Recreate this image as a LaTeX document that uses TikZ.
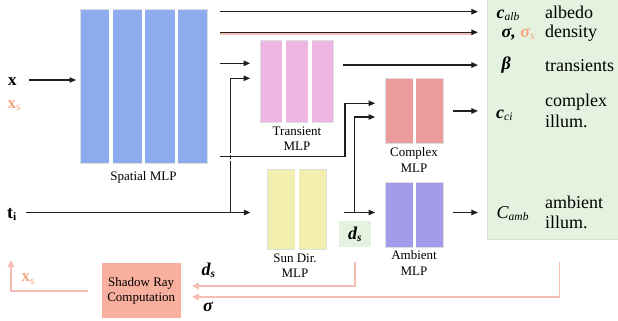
\documentclass[tikz,border=0pt]{standalone}
\usepackage{fontspec}
\setmainfont{Liberation Serif}
\usetikzlibrary{arrows.meta,calc}

\definecolor{spatialblue}{HTML}{8EABEE}
\definecolor{transpink}{HTML}{EDB6E3}
\definecolor{complexred}{HTML}{EB9B9B}
\definecolor{ambientviolet}{HTML}{A29CEB}
\definecolor{sunyellow}{HTML}{F2EEAE}
\definecolor{outgreen}{HTML}{E3F3E0}
\definecolor{outgreenline}{HTML}{D2E2CF}
\definecolor{shadowsalmon}{HTML}{F9AF9D}
\definecolor{raysalmon}{HTML}{F6BDB2}
\definecolor{xsorange}{HTML}{F4A67F}
\definecolor{wire}{HTML}{1E1E1E}

% lowered small text for subscripts
\newcommand\lowtxt[1]{\raisebox{-2.5pt}{\fontsize{11.5}{12}\selectfont #1}}

\begin{document}
\begin{tikzpicture}[x=1pt,y=-1pt,
  mlp/.style={rectangle, inner sep=0pt, outer sep=0pt, draw=black!13, line width=0.5pt},
  caption/.style={font=\fontsize{13}{15.5}\selectfont, align=center, inner sep=0pt},
  flow/.style={draw=wire, line width=1.1pt, -{Triangle[length=6.5pt,width=5.5pt]}},
  flowline/.style={draw=wire, line width=1.1pt},
  ray/.style={draw=raysalmon, line width=1.6pt, -{Triangle[length=7pt,width=6.5pt]}},
  rayline/.style={draw=raysalmon, line width=1.6pt},
  sym/.style={font=\fontsize{18}{20}\selectfont, inner sep=0pt, anchor=base west},
  word/.style={font=\fontsize{18}{20}\selectfont, inner sep=0pt, anchor=base west},
]
\useasboundingbox (0,0) rectangle (618,321);

% ---------- output panel ----------
\node[rectangle, inner sep=0pt, fill=outgreen, draw=outgreenline, line width=0.8pt,
      minimum width=132pt, minimum height=241pt] (outbox) at (553.3,119.2) {};

% ---------- MLP blocks ----------
\node[mlp, fill=spatialblue, minimum width=127pt, minimum height=154pt] (spatial) at (143.5,86) {};
\foreach \gx in {109.3,141.9,174.5}
  \fill[white] (\gx,8.5) rectangle ++(3.3,155);
\node[caption] (spatialcap) at (143.5,177) {Spatial MLP};

\node[mlp, fill=transpink, minimum width=73.3pt, minimum height=82pt] (transient) at (296.7,81) {};
\foreach \gx in {281.8,307.6}
  \fill[white] (\gx,39.5) rectangle ++(4,83);
\node[caption] (transientcap) at (297,138.5) {Transient\\MLP};

\node[mlp, fill=complexred, minimum width=58.3pt, minimum height=64.7pt] (complex) at (414.2,110.7) {};
\fill[white] (412.5,77.8) rectangle ++(3.4,65.7);
\node[caption] (complexcap) at (414,160) {Complex\\MLP};

\node[mlp, fill=ambientviolet, minimum width=58.3pt, minimum height=65pt] (ambient) at (414.2,214.5) {};
\fill[white] (412.5,181.5) rectangle ++(3.4,66);
\node[caption] (ambientcap) at (414,263) {Ambient\\MLP};

\node[mlp, fill=sunyellow, minimum width=59.4pt, minimum height=80pt] (sundir) at (297,209.3) {};
\fill[white] (295,168.8) rectangle ++(4,81);
\node[caption] (sundircap) at (295,265.5) {Sun Dir.\\MLP};

\node[rectangle, inner sep=0pt, fill=outgreen, minimum width=31.7pt, minimum height=26.3pt,
      font=\fontsize{18}{20}\selectfont] (dsbox) at (354.9,234.2)
      {{\bfseries\itshape d}\lowtxt{\bfseries\itshape s}};

\node[rectangle, inner sep=0pt, fill=shadowsalmon, minimum width=79pt, minimum height=55pt,
      caption] (shadow) at (141.2,290.8) {Shadow Ray\\Computation};

% ---------- inputs ----------
\node[sym, font=\fontsize{17}{20}\selectfont] (xin) at (8,85) {\bfseries x};
\node[sym, text=xsorange, font=\fontsize{17}{20}\selectfont] (xsin) at (7.5,108) {{\bfseries x}\lowtxt{s}};
\node[sym] (tin) at (7,218) {{\bfseries t}\lowtxt{\bfseries i}};

% ---------- output symbols and words ----------
\node[sym] (lalb) at (496.5,18.5) {{\bfseries\itshape c}\lowtxt{\itshape alb}};
\node[sym] (lden) at (501.5,37.5) {{\bfseries\itshape σ,} \textcolor{xsorange}{{\bfseries\itshape σ}\lowtxt{\itshape s}}};
\node[sym] (lbeta) at (501.5,70) {{\bfseries\itshape β}};
\node[sym] (lci) at (496,118) {{\bfseries\itshape c}\lowtxt{\itshape ci}};
\node[sym] (lamb) at (496.5,218) {{\itshape C}\lowtxt{\itshape amb}};

\node[word] (walb) at (545,19) {albedo};
\node[word] (wden) at (545,37.5) {density};
\node[word] (wtr) at (545,71.5) {transients};
\node[word] (wci1) at (545,106.5) {complex};
\node[word] (wci2) at (545,127.5) {illum.};
\node[word] (wamb1) at (545,208.5) {ambient};
\node[word] (wamb2) at (545,228.5) {illum.};

% ---------- shadow-ray labels ----------
\node[sym] (dslab) at (201.5,275) {{\bfseries\itshape d}\lowtxt{\bfseries\itshape s}};
\node[sym] (siglab) at (203,311.5) {{\bfseries\itshape σ}};
\node[sym, text=xsorange, font=\fontsize{17}{20}\selectfont] (xsout) at (21.5,281.5) {{\bfseries x}\lowtxt{s}};

% ---------- row and column helpers ----------
\coordinate (yX) at (0,80);
\coordinate (yAlb) at (0,11.7);
\coordinate (yDen) at (0,32.3);
\coordinate (yDenS) at (0,34);
\coordinate (yTrA) at (0,63.3);
\coordinate (yTrB) at (0,78.3);
\coordinate (yBeta) at (0,65);
\coordinate (yCxA) at (0,103.3);
\coordinate (yCxB) at (0,117);
\coordinate (yCxO) at (0,111);
\coordinate (yLow) at (0,156.7);
\coordinate (yTi) at (0,212.5);
\coordinate (yRayD) at (0,286);
\coordinate (yRayS) at (0,297);
\coordinate (yXs) at (0,291);
\coordinate (xA) at (345,0);
\coordinate (xB) at (230.7,0);
\coordinate (xStart) at (29,80);
\coordinate (tiStart) at (26,212.5);
\coordinate (xsTip) at (11,260);

% ---------- black connectors ----------
\draw[flow] (xStart) -- ($(spatial.west|-yX)+(-4,0)$);
\draw[flow] ($(spatial.east|-yAlb)+(13,0)$) -- ($(outbox.west|-yAlb)+(-9,0)$);
\draw[rayline, line width=1.2pt] ($(spatial.east|-yDenS)+(13,0)$) -- ($(outbox.west|-yDenS)+(-14,0)$);
\draw[flow] ($(spatial.east|-yDen)+(13,0)$) -- ($(outbox.west|-yDen)+(-9,0)$);
\draw[flow] ($(spatial.east|-yTrA)+(13,0)$) -- ($(transient.west|-yTrA)+(-10,0)$);
\draw[flow] ($(spatial.east|-yLow)+(13,0)$) -| (xA|-yCxA) -- ($(complex.west|-yCxA)+(-10,0)$);

\draw[flow] (tiStart) -- ($(sundir.west|-yTi)+(-17,0)$);
\draw[flow] (xB|-yTi) |- ($(transient.west|-yTrB)+(-10,0)$);
% small break of the vertical wire where it crosses the horizontal one
\foreach \dy in {-4.0,2.2}
  \draw[white, line width=2pt] ($(xB|-yLow)+(0,\dy)$) -- ++(0,1.8);

\draw[flow] ($(transient.east|-yBeta)+(10,0)$) -- ($(outbox.west|-yBeta)+(-9,0)$);
\draw[flow] ($(sundir.east|-yTi)+(17.3,0)$) -- ($(ambient.west|-yTi)+(-10,0)$);
\draw[flow] (dsbox.north|-yTi) |- ($(complex.west|-yCxB)+(-10,0)$);
\draw[flow] ($(complex.east|-yCxO)+(9.4,0)$) -- ($(outbox.west|-yCxO)+(-9,0)$);
\draw[flow] ($(ambient.east|-yTi)+(9.4,0)$) -- ($(outbox.west|-yTi)+(-9,0)$);

% ---------- shadow-ray connectors ----------
\draw[ray] ($(dsbox.south)+(0,14)$) |- ($(shadow.east|-yRayD)+(11,0)$);
\draw[ray] ($(outbox.south)+(6,21.5)$) |- ($(shadow.east|-yRayS)+(11,0)$);
\draw[ray] ($(shadow.west|-yXs)+(-13.7,0)$) -| (xsTip);
\end{tikzpicture}
\end{document}
